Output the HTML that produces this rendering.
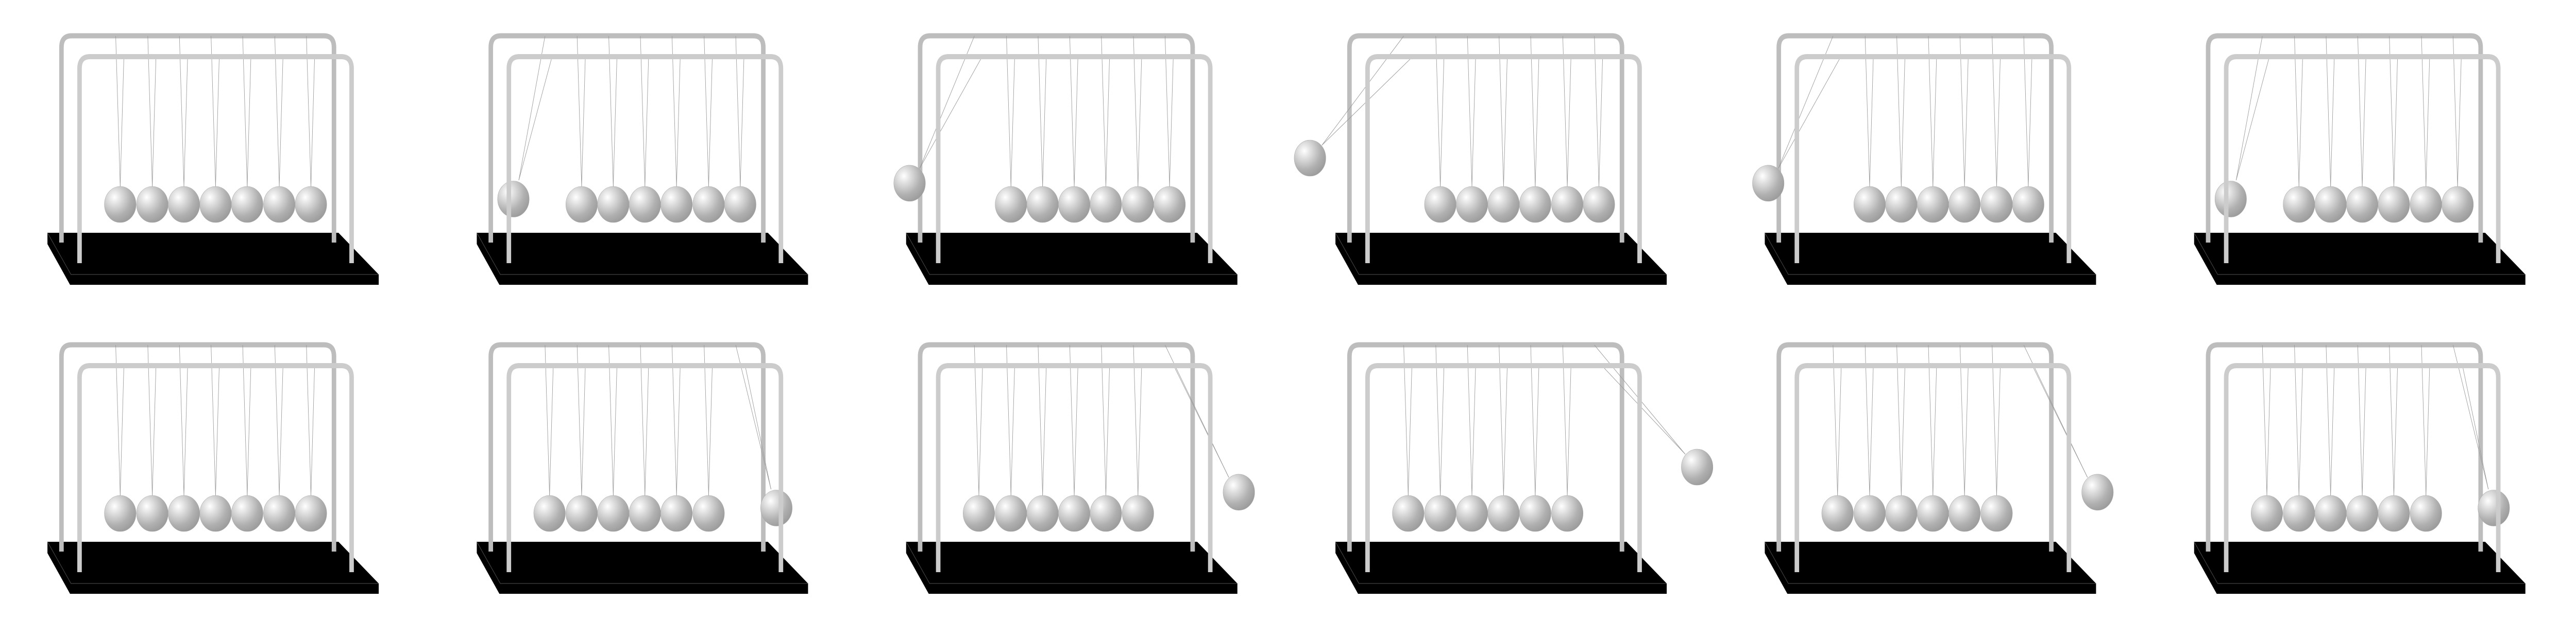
<!DOCTYPE html>
<html><head><meta charset="utf-8"><style>html,body{margin:0;padding:0;background:#fff;overflow:hidden;width:100vw;height:100vh}svg{display:block;width:100vw;height:100vh}</style></head>
<body>
<svg id="s" xmlns="http://www.w3.org/2000/svg" viewBox="0 0 5700 1200" preserveAspectRatio="none">
<defs>
<radialGradient id="g" cx="0.32" cy="0.3" r="0.75">
<stop offset="0" stop-color="#ffffff"/>
<stop offset="0.25" stop-color="#e2e2e2"/>
<stop offset="0.7" stop-color="#b0b0b0"/>
<stop offset="1" stop-color="#9c9c9c"/>
</radialGradient>
</defs>
</svg>
<script>
var s=document.getElementById('s');
var out='';
var rest=[266,337,407,477,547,618,688];
function ball(x,y){return '<circle cx="'+x+'" cy="'+y+'" r="35" fill="url(#g)" stroke="#a8a8a8" stroke-width="0.6"/>';}
function line(a,b,c,d){return '<line x1="'+a+'" y1="'+b+'" x2="'+c+'" y2="'+d+'" stroke="#9a9a9a" stroke-width="1"/>';}
var topSw=[null,[186,386.5,198,350],[112.7,355.8,135,327],[48.7,307,75,282],[112.7,355.8,135,327],[186,386.5,198,350]];
for(var row=0;row<2;row++){
 for(var i=0;i<6;i++){
  var ox=i*950, oy=row*600;
  var g='<g transform="translate('+ox+','+oy+')">';
  g+='<polygon points="105,452 749,452 838,533 838,553 155,553 105,474" fill="#000"/>';
  g+='<polyline points="105,452 157,533 838,533" fill="none" stroke="#444" stroke-width="1.2"/>';
  g+='<path d="M136,471 V92 Q136,69.5 158,69.5 H717 Q739,69.5 739,92 V471" fill="none" stroke="#bdbdbd" stroke-width="10"/>';
  var sw=topSw[i], swIdx=-1, sb=null;
  if(sw){ if(row==0){swIdx=0;sb=sw;} else {swIdx=6;sb=[954-sw[0],sw[1],954-sw[2],sw[3]];} }
  var strs='',balls='';
  for(var k=0;k<7;k++){
   var bx=rest[k];
   var bk=bx-10, fr=bx+8;
   if(k==swIdx){
     strs+=line(bk,70,sb[2],sb[3])+line(k==0?270:700,115,sb[2],sb[3]);
     balls+=ball(sb[0],sb[1]);
   } else {
     strs+=line(bk,70,bx,362)+line(fr,115,bx,362);
     balls+=ball(bx,397);
   }
  }
  g+=strs+balls;
  g+='<path d="M176,511 V133 Q176,110 199,110 H755 Q778,110 778,133 V511" fill="none" stroke="#cccccc" stroke-width="10"/>';
  g+='</g>';
  out+=g;
 }
}
s.insertAdjacentHTML('beforeend',out);
</script>
</body></html>
